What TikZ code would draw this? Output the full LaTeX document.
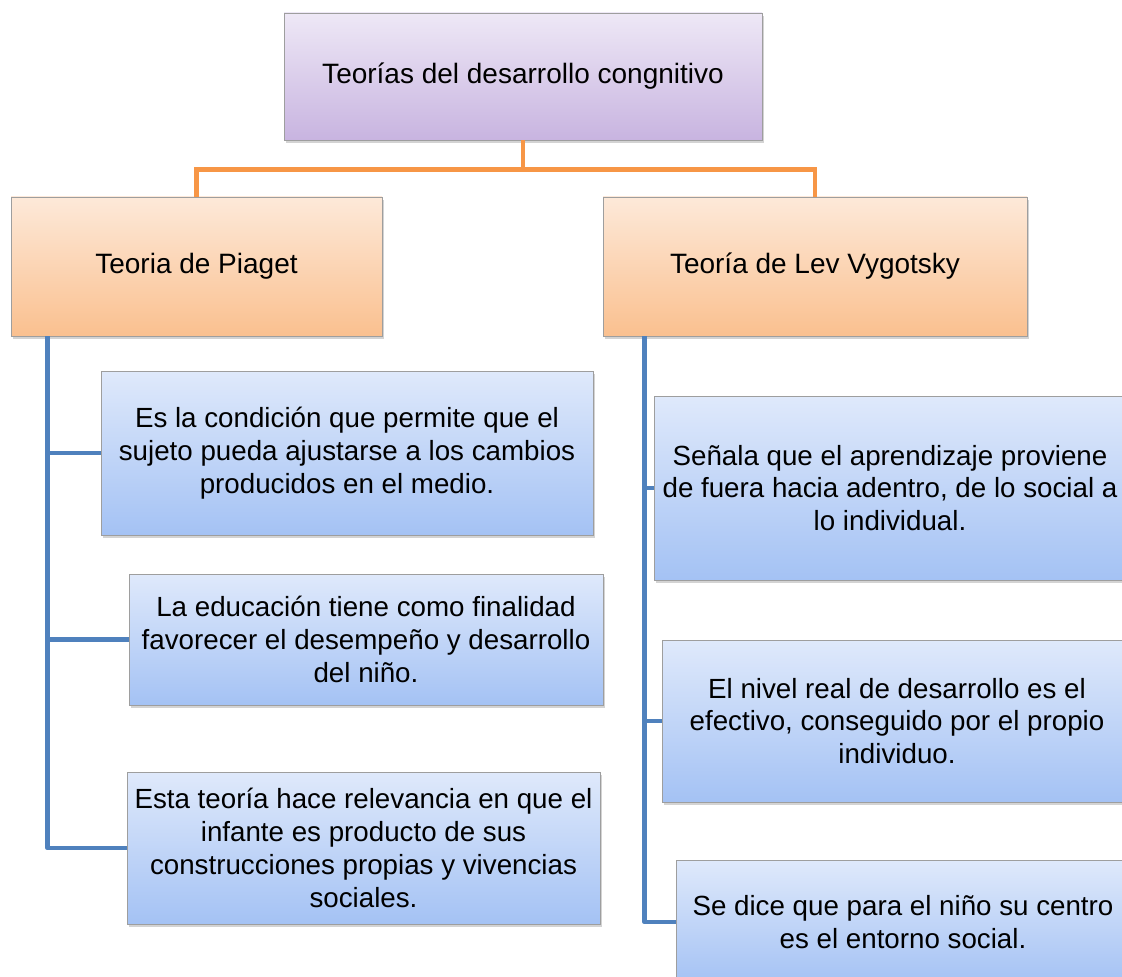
\documentclass[tikz,border=0pt]{standalone}
\usepackage{fontspec}
\setmainfont{Liberation Sans}
\usetikzlibrary{shadows}
\definecolor{lilaarriba}{HTML}{EEE8F6}
\definecolor{lilaabajo}{HTML}{C8B4E0}
\definecolor{naranjaarriba}{HTML}{FDE9D9}
\definecolor{naranjaabajo}{HTML}{FAC08F}
\definecolor{azularriba}{HTML}{DFE9FB}
\definecolor{azulabajo}{HTML}{A4C2F4}
\definecolor{lineanaranja}{HTML}{F79646}
\definecolor{lineaazul}{HTML}{4F81BD}
\newdimen\px \px=0.75pt

\begin{document}
\begin{tikzpicture}[x=0.75pt, y=-0.75pt,
	caja/.style={draw=black!38, line width=0.6pt, inner sep=0pt, align=center,
		drop shadow={shadow xshift=1.5pt, shadow yshift=-2.5pt, opacity=0.35}},
	lila/.style={caja, top color=lilaarriba, bottom color=lilaabajo, font=\fontsize{21}{25}\selectfont},
	naranja/.style={caja, top color=naranjaarriba, bottom color=naranjaabajo, font=\fontsize{21}{25}\selectfont},
	azul/.style={caja, top color=azularriba, bottom color=azulabajo, font=\fontsize{20.8}{24.6}\selectfont},
	ramanaranja/.style={draw=lineanaranja, line width=3.2pt},
	ramaazul/.style={draw=lineaazul, line width=3.5pt, line join=round}]
	\useasboundingbox (0,0) rectangle (1122,977);
	\clip (0,0) rectangle (1122,977);

	\node[lila, minimum width=478\px, minimum height=127\px] (raiz) at (523,76.5) {Teorías del desarrollo congnitivo};
	\node[naranja, minimum width=371\px, minimum height=139\px] (piaget) at (196.5,266.5) {Teoria de Piaget};
	\node[naranja, minimum width=424\px, minimum height=139\px] (vygotsky) at (815,266.5) {Teoría de Lev Vygotsky};

	\node[azul, minimum width=492\px, minimum height=164\px] (p1) at (347,453) {Es la condición que permite que el\\sujeto pueda ajustarse a los cambios\\producidos en el medio.};
	\node[azul, minimum width=474\px, minimum height=131\px] (p2) at (366,639.5) {La educación tiene como finalidad\\favorecer el desempeño y desarrollo\\del niño.};
	\node[azul, minimum width=473\px, minimum height=152\px] (p3) at (363.5,848) {Esta teoría hace relevancia en que el\\infante es producto de sus\\construcciones propias y vivencias\\sociales.};

	\node[azul, minimum width=472\px, minimum height=184\px] (v1) at (890,488) {Señala que el aprendizaje proviene\\de fuera hacia adentro, de lo social a\\lo individual.};
	\node[azul, minimum width=470\px, minimum height=162\px] (v2) at (897,721) {El nivel real de desarrollo es el\\efectivo, conseguido por el propio\\individuo.};
	\node[azul, minimum width=454\px, minimum height=124\px] (v3) at (903,922) {Se dice que para el niño su centro\\es el entorno social.};

	\draw[ramanaranja] (raiz.south) -- ++(0,29) -| (piaget.north);
	\draw[ramanaranja] (raiz.south) -- ++(0,29) -| (vygotsky.north);

	\path (piaget.south west) ++(37,0) coordinate (tp);
	\path (vygotsky.south west) ++(42,0) coordinate (tv);
	\path[ramaazul]
		(tp) edge[-, to path={|- (\tikztotarget)}] (p1.west)
		(tp) edge[-, to path={|- (\tikztotarget)}] (p2.west)
		(tp) edge[-, to path={|- (\tikztotarget)}] (p3.west)
		(tv) edge[-, to path={|- (\tikztotarget)}] (v1.west)
		(tv) edge[-, to path={|- (\tikztotarget)}] (v2.west)
		(tv) edge[-, to path={|- (\tikztotarget)}] (v3.west);
\end{tikzpicture}
\end{document}
